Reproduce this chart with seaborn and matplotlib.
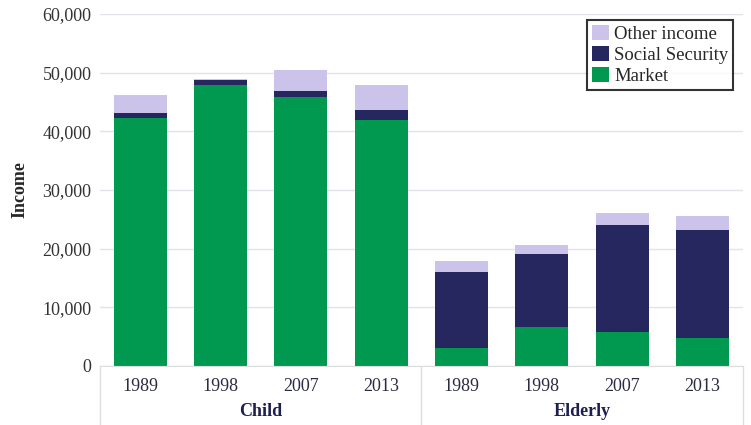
import numpy as np
import pandas as pd
import matplotlib.pyplot as plt
import matplotlib.transforms as mtransforms
from matplotlib.ticker import FuncFormatter
import seaborn as sns

groups = ['Child', 'Child', 'Child', 'Child', 'Elderly', 'Elderly', 'Elderly', 'Elderly']
years = ['1989', '1998', '2007', '2013', '1989', '1998', '2007', '2013']
market = [42300, 47900, 45800, 41900, 3000, 6600, 5700, 4800]
social_security = [800, 800, 1100, 1800, 13000, 12500, 18300, 18300]
other_income = [3100, 300, 3600, 4200, 1950, 1500, 2100, 2400]

GREEN = '#00994f'
NAVY = '#25275e'
LAVENDER = '#cbc3ea'

df = pd.DataFrame({'group': groups, 'year': years, 'Market': market,
                   'Social Security': social_security, 'Other income': other_income})
df['key'] = df['group'] + ' ' + df['year']
df['ss_top'] = df['Market'] + df['Social Security']
df['total'] = df['ss_top'] + df['Other income']

sns.set_style('white')
plt.rcParams['font.family'] = ['Liberation Serif', 'DejaVu Serif']

fig = plt.figure(figsize=(7.51, 4.25), dpi=100)
ax = fig.add_axes([0.133, 0.139, 0.856, 0.828])

order = list(df['key'])
# stacked bars: draw cumulative totals back to front
for col, color, label in [('total', LAVENDER, 'Other income'),
                          ('ss_top', NAVY, 'Social Security'),
                          ('Market', GREEN, 'Market')]:
    sns.barplot(data=df, x='key', y=col, order=order, color=color, width=0.66,
                saturation=1, label=label, linewidth=0, ax=ax)

ax.set_ylim(0, 60000)
ax.set_xlim(-0.5, len(order) - 0.5)
ax.set_yticks(np.arange(0, 60001, 10000))
ax.yaxis.set_major_formatter(FuncFormatter(lambda v, p: '{:,.0f}'.format(v)))
ax.yaxis.grid(True, color='#e6e0ea', linewidth=1)
ax.set_axisbelow(True)
for s in ['top', 'right', 'left']:
    ax.spines[s].set_visible(False)
ax.spines['bottom'].set_color('#dddddd')

ax.set_xticks(range(len(order)))
ax.set_xticklabels(years, fontsize=13, color='#2a2a45')
ax.tick_params(axis='x', length=0, pad=9)
ax.tick_params(axis='y', length=0, labelsize=13, colors='#333333', pad=6)
ax.set_xlabel('')
ax.set_ylabel('Income', fontsize=13, fontweight='bold', labelpad=10)

# group separators and labels below the axis
trans = mtransforms.blended_transform_factory(ax.transData, ax.transAxes)
for xpos in [-0.5, 3.5, 7.5]:
    ax.plot([xpos, xpos], [0, -0.17], transform=trans, color='#dddddd',
            linewidth=1, clip_on=False)
for name, center in [('Child', 1.5), ('Elderly', 5.5)]:
    ax.text(center, -0.13, name, transform=trans, ha='center', va='center',
            fontsize=13, fontweight='bold', color='#1f2050')

leg = ax.legend(loc='upper right', bbox_to_anchor=(1.0, 1.01), fontsize=13.5,
                frameon=True, fancybox=False, handlelength=0.9, handleheight=0.9,
                handletextpad=0.3, borderpad=0.25, labelspacing=0.15)
leg.get_frame().set_edgecolor('black')
leg.get_frame().set_linewidth(1.5)

fig.savefig('out.png', dpi=100)
